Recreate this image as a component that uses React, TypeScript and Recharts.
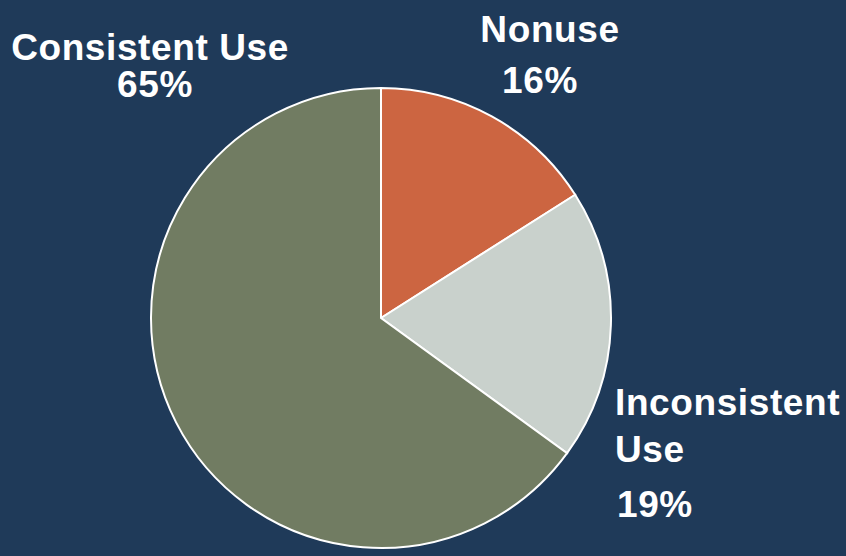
import React from 'react';
import { PieChart, Pie, Cell } from 'recharts';

const categories = ['Nonuse', 'Inconsistent Use', 'Consistent Use'];
const values = [16, 19, 65];
const labelLines = [['Nonuse', '16%'], ['Inconsistent', 'Use', '19%'], ['Consistent Use', '65%']];
const colors = ['#CC6541', '#C9D1CC', '#717C62'];

const data = categories.map((name, i) => ({ name, value: values[i] }));

const BG = '#1F3A59';
const FONT = '"Liberation Sans", Arial, sans-serif';

const renderLabel = (props: any) => {
  const { cx, cy, index } = props;
  const common = { fill: '#FFFFFF', fontFamily: FONT, fontWeight: 700, fontSize: 37, letterSpacing: 0.6 } as any;
  if (index === 0) {
    return (
      <text {...common} textAnchor="middle">
        <tspan x={cx + 169} y={cy - 276}>{labelLines[0][0]}</tspan>
        <tspan x={cx + 159} y={cy - 225}>{labelLines[0][1]}</tspan>
      </text>
    );
  }
  if (index === 1) {
    return (
      <text {...common} textAnchor="start">
        <tspan x={cx + 234} y={cy + 97}>{labelLines[1][0]}</tspan>
        <tspan x={cx + 234} y={cy + 144}>{labelLines[1][1]}</tspan>
        <tspan x={cx + 236} y={cy + 199}>{labelLines[1][2]}</tspan>
      </text>
    );
  }
  return (
    <text {...common} textAnchor="middle">
      <tspan x={cx - 231} y={cy - 258}>{labelLines[2][0]}</tspan>
      <tspan x={cx - 226} y={cy - 221}>{labelLines[2][1]}</tspan>
    </text>
  );
};

export default function App() {
  return (
    <div style={{ position: 'fixed', left: 0, top: 0, width: 846, height: 556, background: BG }}>
      <PieChart width={846} height={556} margin={{ top: 0, right: 0, bottom: 0, left: 0 }}>
        <Pie
          data={data}
          dataKey="value"
          nameKey="name"
          cx={381}
          cy={318}
          outerRadius={230}
          startAngle={90}
          endAngle={-270}
          stroke="#FFFFFF"
          strokeWidth={2}
          label={renderLabel}
          labelLine={false}
          isAnimationActive={false}
        >
          {data.map((d, i) => (
            <Cell key={d.name} fill={colors[i]} />
          ))}
        </Pie>
      </PieChart>
    </div>
  );
}
